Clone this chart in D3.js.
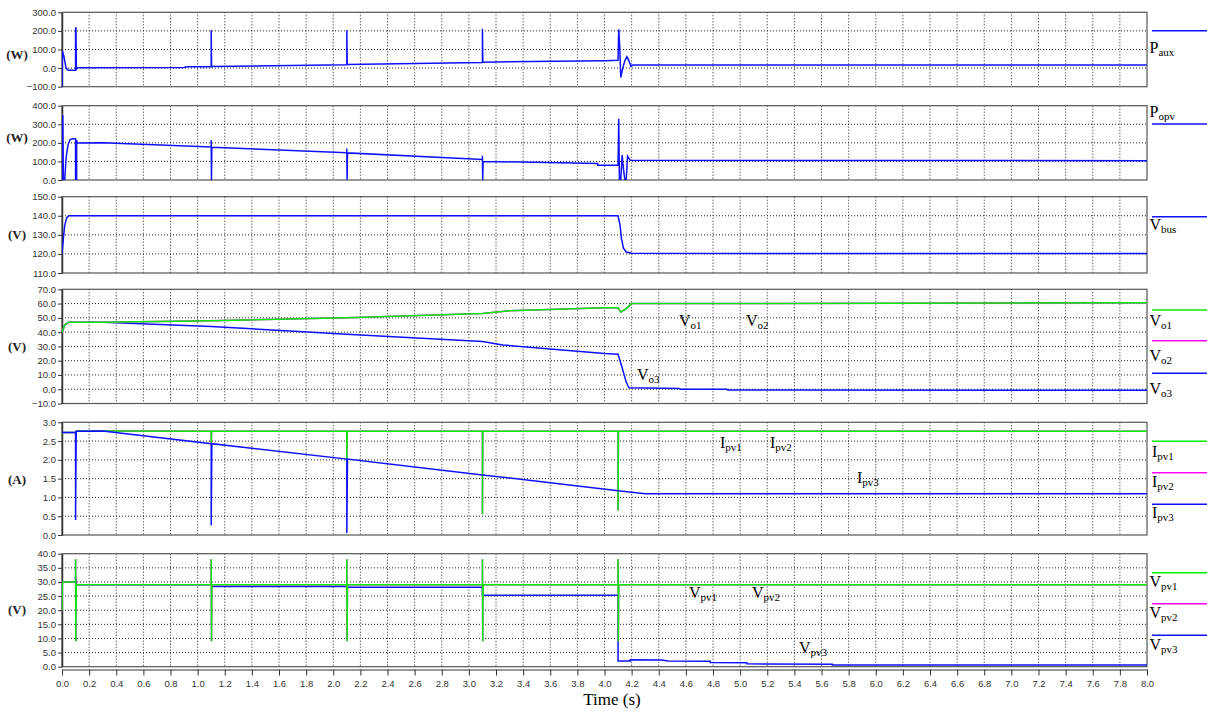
<!DOCTYPE html>
<html>
<head>
<meta charset="utf-8">
<script src="https://cdn.jsdelivr.net/npm/d3@7"></script>
<style>
body { margin: 0; background: #fff; }
</style>
</head>
<body>
<div id="chart"></div>
<script>
//time axis ticks (s)
const timeTicks = [0.0, 0.2, 0.4, 0.6, 0.8, 1.0, 1.2, 1.4, 1.6, 1.8, 2.0, 2.2, 2.4, 2.6, 2.8, 3.0,
    3.2, 3.4, 3.6, 3.8, 4.0, 4.2, 4.4, 4.6, 4.8, 5.0, 5.2, 5.4, 5.6, 5.8, 6.0, 6.2, 6.4, 6.6,
    6.8, 7.0, 7.2, 7.4, 7.6, 7.8, 8.0];

//y ticks of every panel
const pAuxTicks = [-100, 0, 100, 200, 300];
const pOpvTicks = [0, 100, 200, 300, 400];
const vBusTicks = [110, 120, 130, 140, 150];
const voTicks = [-10, 0, 10, 20, 30, 40, 50, 60, 70];
const ipvTicks = [0, 0.5, 1.0, 1.5, 2.0, 2.5, 3.0];
const vpvTicks = [0, 5, 10, 15, 20, 25, 30, 35, 40];

//series, [time, value]
const pAux = [[0, -100], [0.003, 92], [0.015, 60], [0.03, 0], [0.045, -12], [0.1, -12], [0.1, 215],
    [0.103, 215], [0.106, -10], [0.11, 2], [0.9, 3], [0.92, 7], [1.1, 7], [1.1, 204], [1.103, 8],
    [2.1, 18], [2.1, 204], [2.103, 20], [3.1, 30], [3.1, 212], [3.103, 32], [4.0, 40], [4.1, 42],
    [4.105, 208], [4.112, 120], [4.12, -50], [4.135, 0], [4.15, 40], [4.165, 62], [4.18, 40],
    [4.195, 10], [4.21, 17], [8.0, 17]];

const pOpv = [[0, 0], [0.001, 345], [0.006, 345], [0.01, 0], [0.02, 0], [0.03, 120], [0.045, 190],
    [0.06, 218], [0.08, 222], [0.1, 222], [0.1, 0], [0.108, 0], [0.108, 215], [0.112, 199],
    [0.3, 200], [1.1, 178], [1.1, 215], [1.102, 0], [1.105, 176], [2.1, 147], [2.1, 170],
    [2.102, 0], [2.105, 146], [3.1, 110], [3.1, 130], [3.102, 0], [3.105, 100], [3.95, 89],
    [3.95, 80], [4.1, 80], [4.105, 330], [4.11, 0], [4.12, 0], [4.13, 134], [4.14, 60], [4.15, 0],
    [4.16, 0], [4.17, 129], [4.19, 106], [8.0, 104]];

const vBus = [[0, 120], [0.01, 128], [0.02, 135], [0.035, 139], [0.05, 140], [4.1, 140],
    [4.115, 135], [4.125, 128], [4.14, 123], [4.16, 121], [4.2, 120.3], [8.0, 120.2]];

const vo1 = [[0, 40], [0.02, 45], [0.05, 47], [0.3, 47], [1.1, 48], [2.1, 50], [3.1, 53], [3.3, 55],
    [4.0, 57], [4.1, 57], [4.12, 54], [4.16, 56.5], [4.2, 60], [8.0, 60.5]];
const vo2 = vo1; //Vo2 lies exactly under Vo1
const vo3 = [[0, 40], [0.02, 45], [0.05, 47], [0.3, 47], [1.1, 44], [2.1, 38.5], [3.1, 33.5],
    [3.25, 31], [4.0, 25], [4.1, 24.5], [4.13, 15], [4.16, 5], [4.18, 1], [4.55, 0.5], [4.56, 0],
    [4.9, 0], [4.91, -0.5], [8.0, -0.8]];

const ipv1 = [[0, 2.73], [0.1, 2.73], [0.105, 2.77], [0.3, 2.77], [1.1, 2.76], [1.1, 2.4],
    [1.103, 2.76], [2.1, 2.76], [2.1, 2.0], [2.103, 2.76], [3.1, 2.76], [3.1, 0.55], [3.103, 2.76],
    [4.1, 2.76], [4.1, 0.65], [4.103, 2.76], [8.0, 2.76]];
const ipv2 = ipv1; //Ipv2 lies exactly under Ipv1
const ipv3 = [[0, 2.73], [0.1, 2.73], [0.1, 0.4], [0.105, 2.76], [0.3, 2.77], [1.1, 2.43],
    [1.1, 0.25], [1.105, 2.43], [2.1, 2.02], [2.1, 0.05], [2.105, 2.02], [3.1, 1.6], [4.1, 1.18],
    [4.3, 1.1], [8.0, 1.1]];

const vpv1 = [[0, 20], [0.002, 30], [0.1, 30], [0.1, 38], [0.102, 9], [0.105, 29], [1.1, 29],
    [1.1, 38], [1.102, 9], [1.105, 29], [2.1, 29], [2.1, 38], [2.102, 9], [2.105, 29], [3.1, 29],
    [3.1, 38], [3.102, 9], [3.105, 29], [4.1, 29], [4.1, 38], [4.102, 9], [4.105, 29], [8.0, 29]];
const vpv2 = vpv1; //Vpv2 lies exactly under Vpv1
const vpv3 = [[0, 20], [0.002, 30], [0.1, 30], [0.1, 32], [0.105, 29], [1.1, 29], [1.105, 28.4],
    [2.1, 28.4], [2.105, 28.1], [3.1, 28.1], [3.1, 25.3], [4.1, 25.3], [4.1, 2.0], [4.19, 2.0],
    [4.19, 2.5], [4.42, 2.4], [4.47, 2.0], [4.78, 1.9], [4.78, 1.5], [5.05, 1.4], [5.05, 1.0],
    [5.68, 0.9], [5.68, 0.6], [8.0, 0.6]];

const BLUE = '#1010ff', GREEN = '#00ee00', PINK = '#ff00ff';

//layout of the six stacked panels, series listed in drawing order
const panels = [
    { unit: '(W)', unitY: 54, top: 12.3, bottom: 86.7, domain: [-100, 300], ticks: pAuxTicks,
      series: [{ data: pAux, color: BLUE }],
      legend: [{ name: 'P', sub: 'aux', color: BLUE, lineY: 30.7, textY: 53 }] },
    { unit: '(W)', unitY: 137, top: 105.7, bottom: 180, domain: [0, 400], ticks: pOpvTicks,
      series: [{ data: pOpv, color: BLUE }],
      legend: [{ name: 'P', sub: 'opv', color: BLUE, lineY: 124, textY: 117 }] },
    { unit: '(V)', unitY: 234, top: 196.7, bottom: 273, domain: [110, 150], ticks: vBusTicks,
      series: [{ data: vBus, color: BLUE }],
      legend: [{ name: 'V', sub: 'bus', color: BLUE, lineY: 216.7, textY: 230 }] },
    { unit: '(V)', unitY: 346, top: 289.3, bottom: 403.5, domain: [-10, 70], ticks: voTicks,
      series: [{ data: vo3, color: BLUE }, { data: vo2, color: PINK }, { data: vo1, color: GREEN }],
      legend: [{ name: 'V', sub: 'o1', color: GREEN, lineY: 310, textY: 326 },
               { name: 'V', sub: 'o2', color: PINK, lineY: 340.7, textY: 361 },
               { name: 'V', sub: 'o3', color: BLUE, lineY: 373.3, textY: 394 }] },
    { unit: '(A)', unitY: 479, top: 422.3, bottom: 535, domain: [0, 3], ticks: ipvTicks,
      series: [{ data: ipv2, color: PINK }, { data: ipv1, color: GREEN }, { data: ipv3, color: BLUE }],
      legend: [{ name: 'I', sub: 'pv1', color: GREEN, lineY: 441.3, textY: 456.7 },
               { name: 'I', sub: 'pv2', color: PINK, lineY: 472.7, textY: 486.7 },
               { name: 'I', sub: 'pv3', color: BLUE, lineY: 504.3, textY: 518.3 }] },
    { unit: '(V)', unitY: 609, top: 553.7, bottom: 666.7, domain: [0, 40], ticks: vpvTicks,
      series: [{ data: vpv3, color: BLUE }, { data: vpv2, color: PINK }, { data: vpv1, color: GREEN }],
      legend: [{ name: 'V', sub: 'pv1', color: GREEN, lineY: 572.7, textY: 586.7 },
               { name: 'V', sub: 'pv2', color: PINK, lineY: 603.7, textY: 618.3 },
               { name: 'V', sub: 'pv3', color: BLUE, lineY: 635.3, textY: 650 }] }
];

//labels written inside the plots
const inLabels = [
    { name: 'V', sub: 'o1', x: 679, y: 326 }, { name: 'V', sub: 'o2', x: 746, y: 326 },
    { name: 'V', sub: 'o3', x: 637, y: 380 },
    { name: 'I', sub: 'pv1', x: 720, y: 448 }, { name: 'I', sub: 'pv2', x: 770, y: 448 },
    { name: 'I', sub: 'pv3', x: 857, y: 483 },
    { name: 'V', sub: 'pv1', x: 689, y: 598 }, { name: 'V', sub: 'pv2', x: 752, y: 598 },
    { name: 'V', sub: 'pv3', x: 799, y: 653 }
];

const width = 1207, height = 711;
const svg = d3.select('#chart').append('svg')
    .attr('width', width).attr('height', height)
    .style('font-family', '"Liberation Serif", serif');

const x = d3.scaleLinear().domain([0, 8]).range([62, 1147]);
const fmt = d3.format('.1f');

function subLabel(g, d, px, py, size, subSize) {
    const t = g.append('text').attr('x', px).attr('y', py)
        .attr('font-size', size).attr('fill', '#000');
    t.append('tspan').text(d.name);
    t.append('tspan').attr('font-size', subSize).attr('dy', 3).text(d.sub);
}

panels.forEach(function (p, i) {
    const y = d3.scaleLinear().domain(p.domain).range([p.bottom, p.top]);
    const g = svg.append('g');

    g.append('clipPath').attr('id', 'clip' + i)
        .append('rect').attr('x', x(0)).attr('y', p.top)
        .attr('width', x(8) - x(0)).attr('height', p.bottom - p.top);

    //dotted grid
    g.selectAll('.vg').data(timeTicks.slice(1, -1)).enter().append('line')
        .attr('x1', d => x(d)).attr('x2', d => x(d))
        .attr('y1', p.top).attr('y2', p.bottom)
        .attr('stroke', '#222').attr('stroke-dasharray', '1,2');
    g.selectAll('.hg').data(p.ticks.slice(1, -1)).enter().append('line')
        .attr('x1', x(0)).attr('x2', x(8))
        .attr('y1', d => y(d)).attr('y2', d => y(d))
        .attr('stroke', '#222').attr('stroke-dasharray', '1,2');

    //frame
    g.append('rect').attr('x', x(0)).attr('y', p.top)
        .attr('width', x(8) - x(0)).attr('height', p.bottom - p.top)
        .attr('fill', 'none').attr('stroke', '#555').attr('stroke-width', 1.2);

    //left axis
    const ax = g.append('g').attr('transform', 'translate(' + x(0) + ',0)')
        .call(d3.axisLeft(y).tickValues(p.ticks).tickFormat(fmt).tickSize(4).tickSizeOuter(0));
    ax.select('.domain').attr('stroke', '#333').attr('stroke-width', 1.5);
    ax.selectAll('.tick line').attr('stroke', '#333');
    ax.selectAll('text').attr('font-family', '"Liberation Sans", Arial, sans-serif')
        .attr('font-size', 9.5).attr('fill', '#333').attr('x', -6);

    //unit label
    g.append('text').attr('x', 17).attr('y', p.unitY).attr('dy', '0.35em')
        .attr('text-anchor', 'middle').attr('font-size', 13).attr('font-weight', 'bold')
        .attr('fill', '#222').text(p.unit);

    //curves
    const line = d3.line().x(d => x(d[0])).y(d => y(d[1]));
    g.append('g').attr('clip-path', 'url(#clip' + i + ')')
        .selectAll('path').data(p.series).enter().append('path')
        .attr('d', d => line(d.data))
        .attr('fill', 'none').attr('stroke', d => d.color).attr('stroke-width', 1.5);

    //legend on the right
    p.legend.forEach(function (l) {
        g.append('line').attr('x1', 1152).attr('x2', 1207)
            .attr('y1', l.lineY).attr('y2', l.lineY)
            .attr('stroke', l.color).attr('stroke-width', 1.5);
        subLabel(g, l, l.name === 'I' ? 1152 : 1149.5, l.textY, 16, 11);
    });
});

inLabels.forEach(function (l) { subLabel(svg, l, l.x, l.y, 16, 11); });

//time axis
const xa = svg.append('g').attr('transform', 'translate(0,669.5)')
    .call(d3.axisBottom(x).tickValues(timeTicks).tickFormat(fmt).tickSize(6).tickSizeOuter(0));
xa.select('.domain').attr('stroke', '#333').attr('stroke-width', 1.2);
xa.selectAll('.tick line').attr('stroke', '#333');
xa.selectAll('text').attr('font-family', '"Liberation Sans", Arial, sans-serif')
    .attr('font-size', 9.5).attr('fill', '#333').attr('y', 11);

svg.append('text').attr('x', 612).attr('y', 705).attr('text-anchor', 'middle')
    .attr('font-size', 17).attr('fill', '#000').text('Time (s)');
</script>
</body>
</html>
